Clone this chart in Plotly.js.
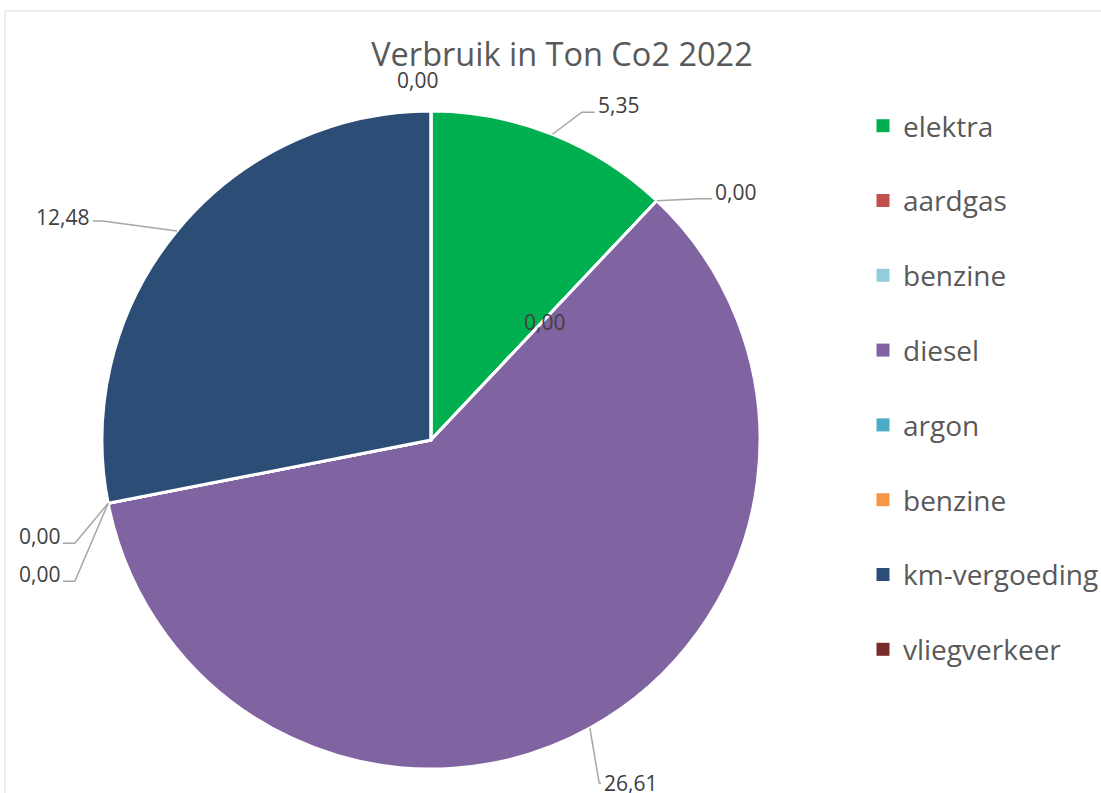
<!DOCTYPE html>
<html>
<head>
<meta charset="utf-8">
<script src="https://cdn.plot.ly/plotly-3.0.1.min.js"></script>
<style>html,body{margin:0;padding:0;background:#fff;}#chart{width:1101px;height:793px;}</style>
</head>
<body>
<div id="chart"></div>
<script>
// ---- data ----
const categories = ["elektra", "aardgas", "benzine", "diesel", "argon", "benzine", "km-vergoeding", "vliegverkeer"];
const values = [5.35, 0, 0, 26.61, 0, 0, 12.48, 0];
const chartTitle = "Verbruik in Ton Co2 2022";

// ---- styles ----
const colors = ["#00B050", "#C0504D", "#92CDDC", "#8064A2", "#4BACC6", "#F79646", "#2C4D75", "#772C2A"];
// label placement relative to the slice anchor (px), leader side, radial factor
const placement = [
  {dx: 66, dy: -29, side: "right", radial: 1, lineDy: 7, elbow: 13},
  {dx: 79, dy: -9, side: "right", radial: 1, lineDy: 7, elbow: 13},
  {dx: 1, dy: 2, side: null, radial: 0.5},
  {dx: 41, dy: 55, side: "right", radial: 1, lineDy: 0, elbow: 2},
  {dx: -69, dy: 33, side: "left", radial: 1, lineDy: 7, elbow: 12},
  {dx: -69, dy: 71, side: "left", radial: 1, lineDy: 7, elbow: 12},
  {dx: -114, dy: -14, side: "left", radial: 1, lineDy: 4, elbow: 10},
  {dx: -13, dy: -31, side: null, radial: 1}
];

const W = 1101, H = 793;
const cx = 431, cy = 440, R = 329;
const labelFont = 21;
const px2x = p => p / W;
const px2y = p => 1 - p / H;

const fmt = v => v.toFixed(2).replace(".", ",");

// unique keys so duplicate category names are kept as separate slices
const keys = categories.map((c, i) => c + "\u200b".repeat(i));

const pie = {
  type: "pie",
  labels: keys,
  values: values,
  sort: false,
  direction: "clockwise",
  rotation: 0,
  textinfo: "none",
  hoverinfo: "label+value",
  showlegend: false,
  marker: {colors: colors, line: {color: "#ffffff", width: 3}},
  domain: {x: [px2x(cx - R), px2x(cx + R)], y: [px2y(cy + R), px2y(cy - R)]}
};

// legend as separate entries (one per category) so spacing can be set
const legendTraces = categories.map((c, i) => ({
  type: "scatter", mode: "markers", x: [null], y: [null],
  name: c, legendgroup: "g" + i, showlegend: true,
  marker: {symbol: "square", size: 13, color: colors[i]},
  hoverinfo: "skip"
}));

// labels and leader lines derived from the data
const total = values.reduce((a, b) => a + b, 0);
const annotations = [];
const shapes = [];
let cum = 0;
values.forEach((v, i) => {
  const a0 = cum / total * 360;
  cum += v;
  const a1 = cum / total * 360;
  const mid = (a0 + a1) / 2 * Math.PI / 180;
  const p = placement[i];
  const ax = cx + p.radial * R * Math.sin(mid);
  const ay = cy - p.radial * R * Math.cos(mid);
  const lx = ax + p.dx, ly = ay + p.dy;
  const txt = fmt(v);
  annotations.push({
    xref: "paper", yref: "paper", x: px2x(lx), y: px2y(ly),
    xanchor: "center", yanchor: "middle", showarrow: false,
    text: txt, font: {family: "Open Sans", size: labelFont, color: "#404040"}
  });
  if (p.side) {
    let w = 0;
    for (const ch of txt) w += (ch === "," ? 0.258 : 0.572) * labelFont;
    const hw = w / 2;
    const ex = p.side === "right" ? lx - hw - 3 : lx + hw + 3;
    const ey = ly + p.lineDy;
    const bx = p.side === "right" ? ex - p.elbow : ex + p.elbow;
    shapes.push({
      type: "path", xref: "paper", yref: "paper",
      path: `M ${px2x(ax)} ${px2y(ay)} L ${px2x(bx)} ${px2y(ey)} L ${px2x(ex)} ${px2y(ey)}`,
      line: {color: "#A6A6A6", width: 1.5}
    });
  }
});

// chart area border
shapes.push({
  type: "path", xref: "paper", yref: "paper",
  path: `M ${px2x(5)} ${px2y(H + 5)} L ${px2x(5)} ${px2y(11)} L ${px2x(W + 5)} ${px2y(11)}`,
  line: {color: "#D9D9D9", width: 1}
});

const layout = {
  width: W, height: H,
  margin: {l: 0, r: 0, t: 0, b: 0, autoexpand: false},
  paper_bgcolor: "#ffffff", plot_bgcolor: "#ffffff",
  title: {text: chartTitle, x: px2x(562), xanchor: "center", y: px2y(55), yanchor: "middle",
    font: {family: "Open Sans", size: 32.5, color: "#595959"}},
  xaxis: {visible: false}, yaxis: {visible: false},
  showlegend: true,
  legend: {x: px2x(863), xanchor: "left", y: px2y(101), yanchor: "top",
    font: {family: "Open Sans", size: 28, color: "#595959"},
    tracegroupgap: 35.4, itemclick: false, bgcolor: "rgba(0,0,0,0)"},
  annotations: annotations,
  shapes: shapes
};

Plotly.newPlot("chart", [pie].concat(legendTraces), layout, {displayModeBar: false, staticPlot: true});
</script>
</body>
</html>
